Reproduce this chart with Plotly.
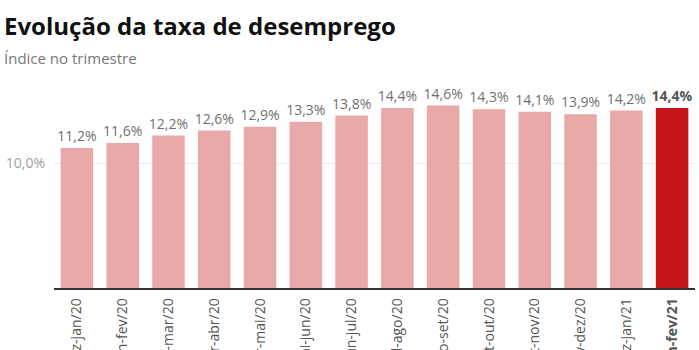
import plotly.graph_objects as go

categories = ["dez-jan/20", "jan-fev/20", "fev-mar/20", "mar-abr/20", "abr-mai/20",
              "mai-jun/20", "jun-jul/20", "jul-ago/20", "ago-set/20", "set-out/20",
              "out-nov/20", "nov-dez/20", "dez-jan/21", "jan-fev/21"]
values = [11.2, 11.6, 12.2, 12.6, 12.9, 13.3, 13.8, 14.4, 14.6, 14.3, 14.1, 13.9, 14.2, 14.4]
value_labels = ["11,2%", "11,6%", "12,2%", "12,6%", "12,9%", "13,3%", "13,8%", "14,4%",
                "14,6%", "14,3%", "14,1%", "13,9%", "14,2%", "14,4%"]
y_ticks = [10]
y_tick_labels = ["10,0%"]

n = len(categories)
colors = ["#e8a9a8"] * (n - 1) + ["#c4161c"]
texts = value_labels[:-1] + ["<b>" + value_labels[-1] + "</b>"]
tick_texts = categories[:-1] + ["<b>" + categories[-1] + "</b>"]
text_colors = ["#707070"] * (n - 1) + ["#555555"]

fig = go.Figure(go.Bar(
    x=categories, y=values, marker=dict(color=colors, line=dict(width=0)),
    text=texts, textposition="outside", constraintext="none", cliponaxis=False,
    textfont=dict(family="Open Sans", size=14, color=text_colors),
    hoverinfo="skip",
))

fig.update_layout(
    width=699, height=350,
    margin=dict(l=54, r=4, t=88, b=62, autoexpand=False),
    paper_bgcolor="white", plot_bgcolor="white",
    bargap=0.29, showlegend=False,
    font=dict(family="Open Sans"),
    annotations=[
        dict(text="<b>Evolução da taxa de desemprego</b>", xref="paper", yref="paper",
             x=-52/641, y=1 + (88 - 7)/200, xanchor="left", yanchor="top", showarrow=False,
             font=dict(family="Open Sans", size=24, color="#111111")),
        dict(text="Índice no trimestre", xref="paper", yref="paper",
             x=-52/641, y=1 + (88 - 46)/200, xanchor="left", yanchor="top", showarrow=False,
             font=dict(family="Open Sans", size=15, color="#777777")),
    ],
)

fig.update_xaxes(
    tickmode="array", tickvals=categories, ticktext=tick_texts, tickangle=-90,
    tickfont=dict(family="Open Sans", size=14, color="#555555"),
    showline=True, linecolor="#333333", linewidth=1.5, showgrid=False,
    ticks="", automargin=False, ticklabelstandoff=3,
)
fig.update_yaxes(
    range=[0, 16], tickmode="array", tickvals=y_ticks, ticktext=y_tick_labels,
    tickfont=dict(family="Open Sans", size=14, color="#a0a0a0"),
    showgrid=True, gridcolor="#ececec", gridwidth=1, zeroline=False,
    showline=False, ticks="", automargin=False, ticklabelstandoff=8,
)

fig.write_html("out.html")
